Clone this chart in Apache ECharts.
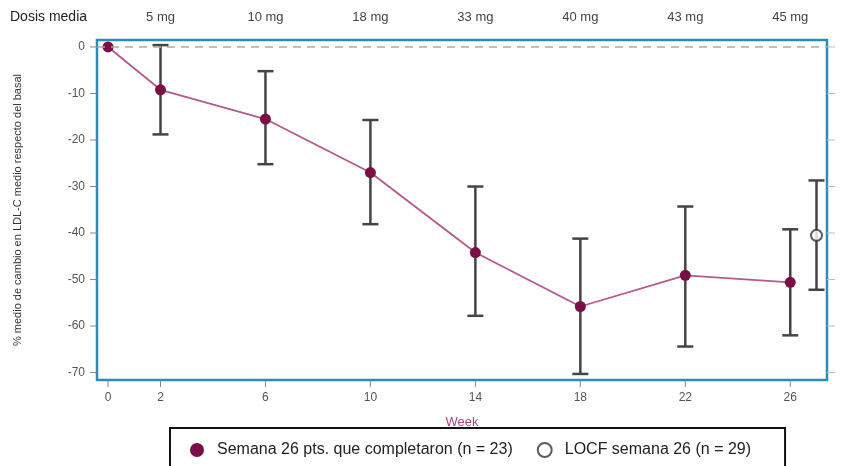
<!DOCTYPE html>
<html><head><meta charset="utf-8">
<script src="https://cdn.jsdelivr.net/npm/echarts@6/dist/echarts.min.js"></script>
<style>html,body{margin:0;padding:0;background:#fff}#c{width:867px;height:466px}</style>
</head><body><div id="c"></div>
<script>
const weeks = [0, 2, 6, 10, 14, 18, 22, 26];
const meanChange = [0, -9.2, -15.5, -27.0, -44.2, -55.8, -49.1, -50.6];
const errLow = [0, -18.8, -25.2, -38.1, -57.8, -70.3, -64.4, -62.0];
const errHigh = [0, 0.4, -5.2, -15.7, -30.0, -41.2, -34.3, -39.2];
const locfWeek = [27];
const locfMean = [-40.5];
const locfLow = [-52.2];
const locfHigh = [-28.7];
const doseWeeks = [2, 6, 10, 14, 18, 22, 26];
const doseLabels = ['5 mg', '10 mg', '18 mg', '33 mg', '40 mg', '43 mg', '45 mg'];
const yTicks = [0, -10, -20, -30, -40, -50, -60, -70];

const maroon = '#7a0f45';
const lineColor = '#b5588c';
const errColor = '#444';
const boxColor = '#2a8db8';

const errData = [];
for (let i = 1; i < weeks.length; i++) errData.push([weeks[i], errLow[i], errHigh[i]]);
for (let i = 0; i < locfWeek.length; i++) errData.push([locfWeek[i], locfLow[i], locfHigh[i]]);

const X_MIN = -0.42, X_MAX = 27.4, Y_MIN = -71.6, Y_MAX = 1.5;

// tick marks as data: [axis, value]
const tickData = weeks.map(w => ['x', w]).concat(yTicks.map(v => ['y', v]), yTicks.map(v => ['r', v]));

const chart = echarts.init(document.getElementById('c'), null, {renderer: 'canvas'});
const font = 'Liberation Sans, Arial, sans-serif';
chart.setOption({
  animation: false,
  textStyle: {fontFamily: font},
  grid: {left: 97, right: 40, top: 40, bottom: 86, show: true, borderColor: boxColor, borderWidth: 2.5, backgroundColor: 'transparent'},
  xAxis: [{
    type: 'value', min: X_MIN, max: X_MAX, position: 'bottom',
    name: 'Week', nameLocation: 'middle', nameGap: 36,
    nameTextStyle: {color: '#a54a80', fontSize: 13, fontFamily: font},
    axisLine: {show: false, onZero: false}, splitLine: {show: false},
    axisTick: {show: false},
    axisLabel: {color: '#555', fontSize: 12, margin: 12, customValues: weeks, fontFamily: font}
  }, {
    type: 'value', min: X_MIN, max: X_MAX, position: 'top',
    axisLine: {show: false, onZero: false}, splitLine: {show: false}, axisTick: {show: false},
    axisLabel: {color: '#444', fontSize: 13, margin: 16, customValues: doseWeeks, fontFamily: font,
      formatter: v => { const i = doseWeeks.indexOf(v); return i >= 0 ? doseLabels[i] : ''; }}
  }],
  yAxis: [{
    type: 'value', min: Y_MIN, max: Y_MAX, position: 'left',
    name: '% medio de cambio en LDL-C medio respecto del basal', nameLocation: 'middle', nameGap: 74, nameRotate: 90,
    nameTextStyle: {color: '#333', fontSize: 11, fontFamily: font},
    axisLine: {show: false, onZero: false}, splitLine: {show: false},
    axisTick: {show: false},
    axisLabel: {color: '#555', fontSize: 12, margin: 12, customValues: yTicks, fontFamily: font}
  }],
  legend: {
    left: 170, top: 428, padding: [14, 34, 16, 20], itemGap: 24,
    borderColor: '#111', borderWidth: 2, itemWidth: 14, itemHeight: 14,
    textStyle: {color: '#222', fontSize: 16, fontFamily: font, padding: [0, 0, 0, 8]},
    data: [
      {name: 'Semana 26 pts. que completaron (n = 23)', icon: 'circle', itemStyle: {color: maroon}},
      {name: 'LOCF semana 26 (n = 29)', icon: 'emptyCircle', itemStyle: {color: '#333', borderColor: '#333', borderWidth: 1.5}}
    ]
  },
  series: [{
    type: 'custom', name: 'ticks', clip: false, silent: true, z: 1,
    encode: {x: [], y: []},
    data: tickData,
    renderItem: function (params, api) {
      const d = tickData[params.dataIndex];
      let p, q;
      if (d[0] === 'x') { p = api.coord([d[1], Y_MIN]); q = [p[0], p[1] + 7]; return {type: 'line', shape: {x1: p[0], y1: p[1], x2: q[0], y2: q[1]}, style: {stroke: '#888', lineWidth: 1}}; }
      if (d[0] === 'y') { p = api.coord([X_MIN, d[1]]); q = [p[0] - 7, p[1]]; return {type: 'line', shape: {x1: p[0], y1: p[1], x2: q[0], y2: q[1]}, style: {stroke: '#888', lineWidth: 1}}; }
      p = api.coord([X_MAX, d[1]]); q = [p[0] + 8, p[1]];
      return {type: 'line', shape: {x1: p[0], y1: p[1], x2: q[0], y2: q[1]}, style: {stroke: '#bbb', lineWidth: 1}};
    }
  }, {
    type: 'custom', name: 'err', z: 2,
    data: errData,
    renderItem: function (params, api) {
      const x = api.value(0);
      const lo = api.coord([x, api.value(1)]);
      const hi = api.coord([x, api.value(2)]);
      const w = 8;
      const st = {stroke: errColor, lineWidth: 2.5};
      return {type: 'group', children: [
        {type: 'line', shape: {x1: lo[0], y1: lo[1], x2: hi[0], y2: hi[1]}, style: st},
        {type: 'line', shape: {x1: lo[0] - w, y1: lo[1], x2: lo[0] + w, y2: lo[1]}, style: st},
        {type: 'line', shape: {x1: hi[0] - w, y1: hi[1], x2: hi[0] + w, y2: hi[1]}, style: st}
      ]};
    }
  }, {
    type: 'line', name: 'Semana 26 pts. que completaron (n = 23)', z: 3,
    data: weeks.map((w, i) => [w, meanChange[i]]),
    symbol: 'circle', symbolSize: 11,
    itemStyle: {color: maroon},
    lineStyle: {color: lineColor, width: 1.8},
    markLine: {silent: true, symbol: 'none', label: {show: false},
      lineStyle: {color: '#aaa', type: [8, 6], width: 1.5},
      data: [{yAxis: 0}]}
  }, {
    type: 'scatter', name: 'LOCF semana 26 (n = 29)', z: 3,
    data: locfWeek.map((w, i) => [w, locfMean[i]]),
    symbol: 'emptyCircle', symbolSize: 11,
    itemStyle: {color: '#333', borderColor: '#333', borderWidth: 1.5}
  }],
  graphic: [{
    type: 'text', left: 10, top: 10,
    style: {text: 'Dosis media', fill: '#222', font: '14px ' + font}
  }]
});
</script></body></html>
